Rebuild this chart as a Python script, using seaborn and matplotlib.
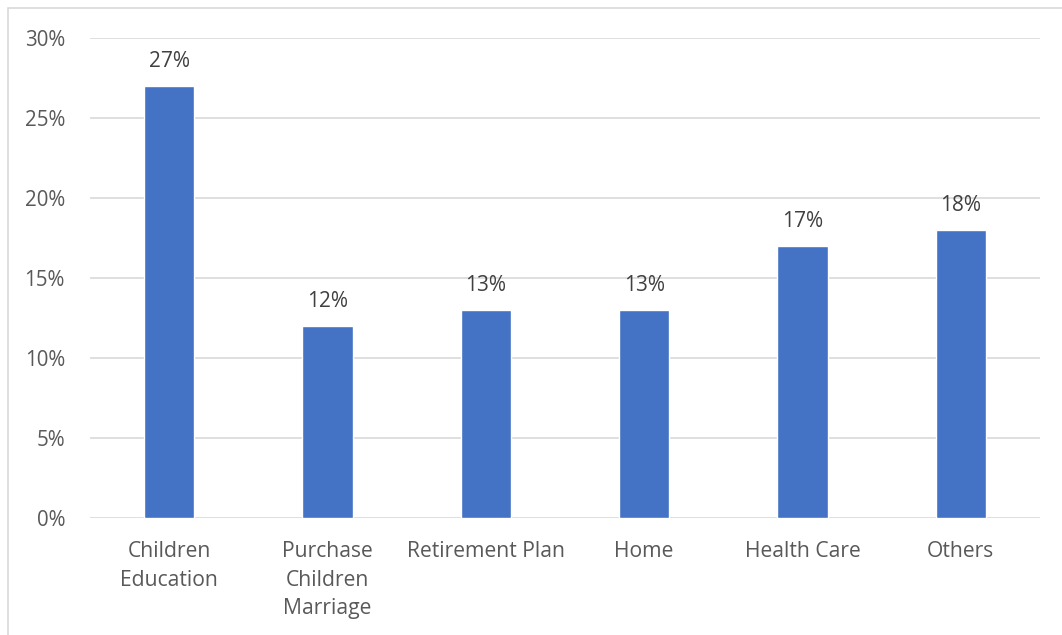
import matplotlib
matplotlib.use("Agg")
import matplotlib.pyplot as plt
import matplotlib.patches as mpatches
from matplotlib.ticker import FuncFormatter, MultipleLocator
import seaborn as sns
import pandas as pd

categories = ["Children\nEducation", "Purchase\nChildren\nMarriage", "Retirement Plan",
              "Home", "Health Care", "Others"]
shares = [27, 12, 13, 13, 17, 18]

df = pd.DataFrame({"goal": categories, "share": shares})

sns.set_theme(style="white")
plt.rcParams["font.family"] = ["Open Sans", "DejaVu Sans"]

W, H, DPI = 1062, 635, 100
fig = plt.figure(figsize=(W / DPI, H / DPI), dpi=DPI)
ax = fig.add_axes([90 / W, 1 - 518 / H, (1040 - 90) / W, (518 - 38) / H])

sns.barplot(data=df, x="goal", y="share", color="#4472C4", width=0.316,
            saturation=1, ax=ax)

ax.set_ylim(0, 30)
ax.set_xlim(-0.5, len(categories) - 0.5)
ax.yaxis.set_major_locator(MultipleLocator(5))
ax.yaxis.set_major_formatter(FuncFormatter(lambda v, _: f"{v:.0f}%"))
ax.grid(axis="y", color="#D9D9D9", linewidth=1.2)
ax.set_axisbelow(True)
for s in ax.spines.values():
    s.set_visible(False)
ax.set_xlabel("")
ax.set_ylabel("")
ax.tick_params(axis="x", length=0, labelsize=15.2, labelcolor="#595959", pad=16.8)
ax.tick_params(axis="y", length=0, labelsize=14.8, labelcolor="#595959", pad=18)
for lbl in ax.get_xticklabels():
    lbl.set_linespacing(1.47)

for i, v in enumerate(shares):
    ax.annotate(f"{v}%", (i, v), xytext=(0, 13.7), textcoords="offset points",
                ha="center", va="baseline", fontsize=15, color="#404040")

# chart frame
fig.patches.append(mpatches.Rectangle((8 / W, -0.1), 1.2, 1 - 8 / H + 0.1,
                                      transform=fig.transFigure, fill=False,
                                      edgecolor="#D9D9D9", linewidth=1.2))

fig.savefig("out.png", dpi=DPI, facecolor="white")
